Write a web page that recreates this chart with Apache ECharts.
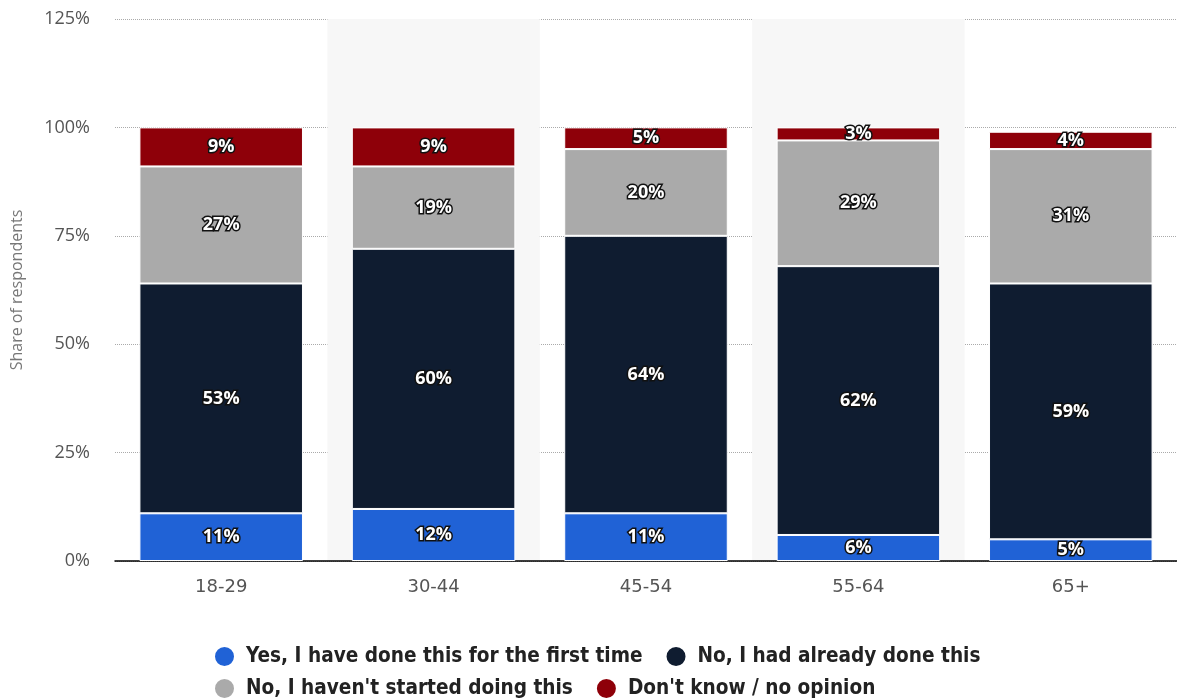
<!DOCTYPE html>
<html>
<head>
<meta charset="utf-8">
<script src="https://cdn.jsdelivr.net/npm/echarts@6/dist/echarts.min.js"></script>
<style>
  html, body { margin: 0; padding: 0; background: #fff; }
  #chart { width: 1177px; height: 699px; }
</style>
</head>
<body>
<div id="chart"></div>
<script>
const ageGroups = ['18-29', '30-44', '45-54', '55-64', '65+']
const firstTime = [11, 12, 11, 6, 5]
const alreadyDone = [53, 60, 64, 62, 59]
const notStarted = [27, 19, 20, 29, 31]
const dontKnow = [9, 9, 5, 3, 4]

const seriesNames = [
  'Yes, I have done this for the first time',
  'No, I had already done this',
  "No, I haven't started doing this",
  "Don't know / no opinion"
]
const colors = ['#2062d6', '#0f1c30', '#aaaaaa', '#8e0009']

const chart = echarts.init(document.getElementById('chart'))

// label with dark outline, like the original
function segLabel () {
  return {
    show: true,
    position: 'inside',
    formatter: '{c}%',
    color: '#fff',
    fontFamily: 'Open Sans',
    fontWeight: 'bold',
    fontSize: 18,
    textBorderColor: '#111',
    textBorderWidth: 3
  }
}

const seriesData = [firstTime, alreadyDone, notStarted, dontKnow]

const legendText = {
  fontFamily: 'DejaVu Sans Condensed',
  fontWeight: 'bold',
  fontSize: 20.6,
  color: '#222',
  padding: [0, 0, 0, 6]
}

const option = {
  animation: false,
  color: colors,
  grid: { left: 115, right: 0, top: 19, bottom: 138, outerBoundsMode: 'none' },
  legend: [
    {
      data: seriesNames.slice(0, 2),
      left: 208,
      top: 640,
      icon: 'circle',
      itemWidth: 21,
      itemHeight: 21,
      itemGap: 22,
      textStyle: legendText
    },
    {
      data: seriesNames.slice(2),
      left: 208,
      top: 672,
      icon: 'circle',
      itemWidth: 21,
      itemHeight: 21,
      itemGap: 22,
      textStyle: legendText
    }
  ],
  xAxis: {
    type: 'category',
    data: ageGroups,
    axisLine: { lineStyle: { color: '#000', width: 1.5 } },
    axisTick: { show: false },
    axisLabel: { color: '#555', fontSize: 18, fontFamily: 'DejaVu Sans', margin: 17 },
    splitArea: { show: true, areaStyle: { color: ['rgba(0,0,0,0)', '#f7f7f7'] } }
  },
  yAxis: {
    type: 'value',
    min: 0,
    max: 125,
    interval: 25,
    name: 'Share of respondents',
    nameLocation: 'middle',
    nameGap: 90,
    nameTextStyle: { color: '#777', fontSize: 16, fontFamily: 'Open Sans' },
    axisLabel: { formatter: '{value}%', color: '#555', fontSize: 18, fontFamily: 'Open Sans', margin: 25 },
    axisLine: { show: false },
    axisTick: { show: false },
    splitLine: { lineStyle: { type: 'dotted', color: '#aaa', width: 1 } }
  },
  series: seriesNames.map((name, i) => ({
    name: name,
    type: 'bar',
    stack: 'total',
    barWidth: '77%',
    data: seriesData[i],
    itemStyle: { borderColor: '#fff', borderWidth: 1 },
    label: segLabel()
  }))
}

chart.setOption(option)
</script>
</body>
</html>
